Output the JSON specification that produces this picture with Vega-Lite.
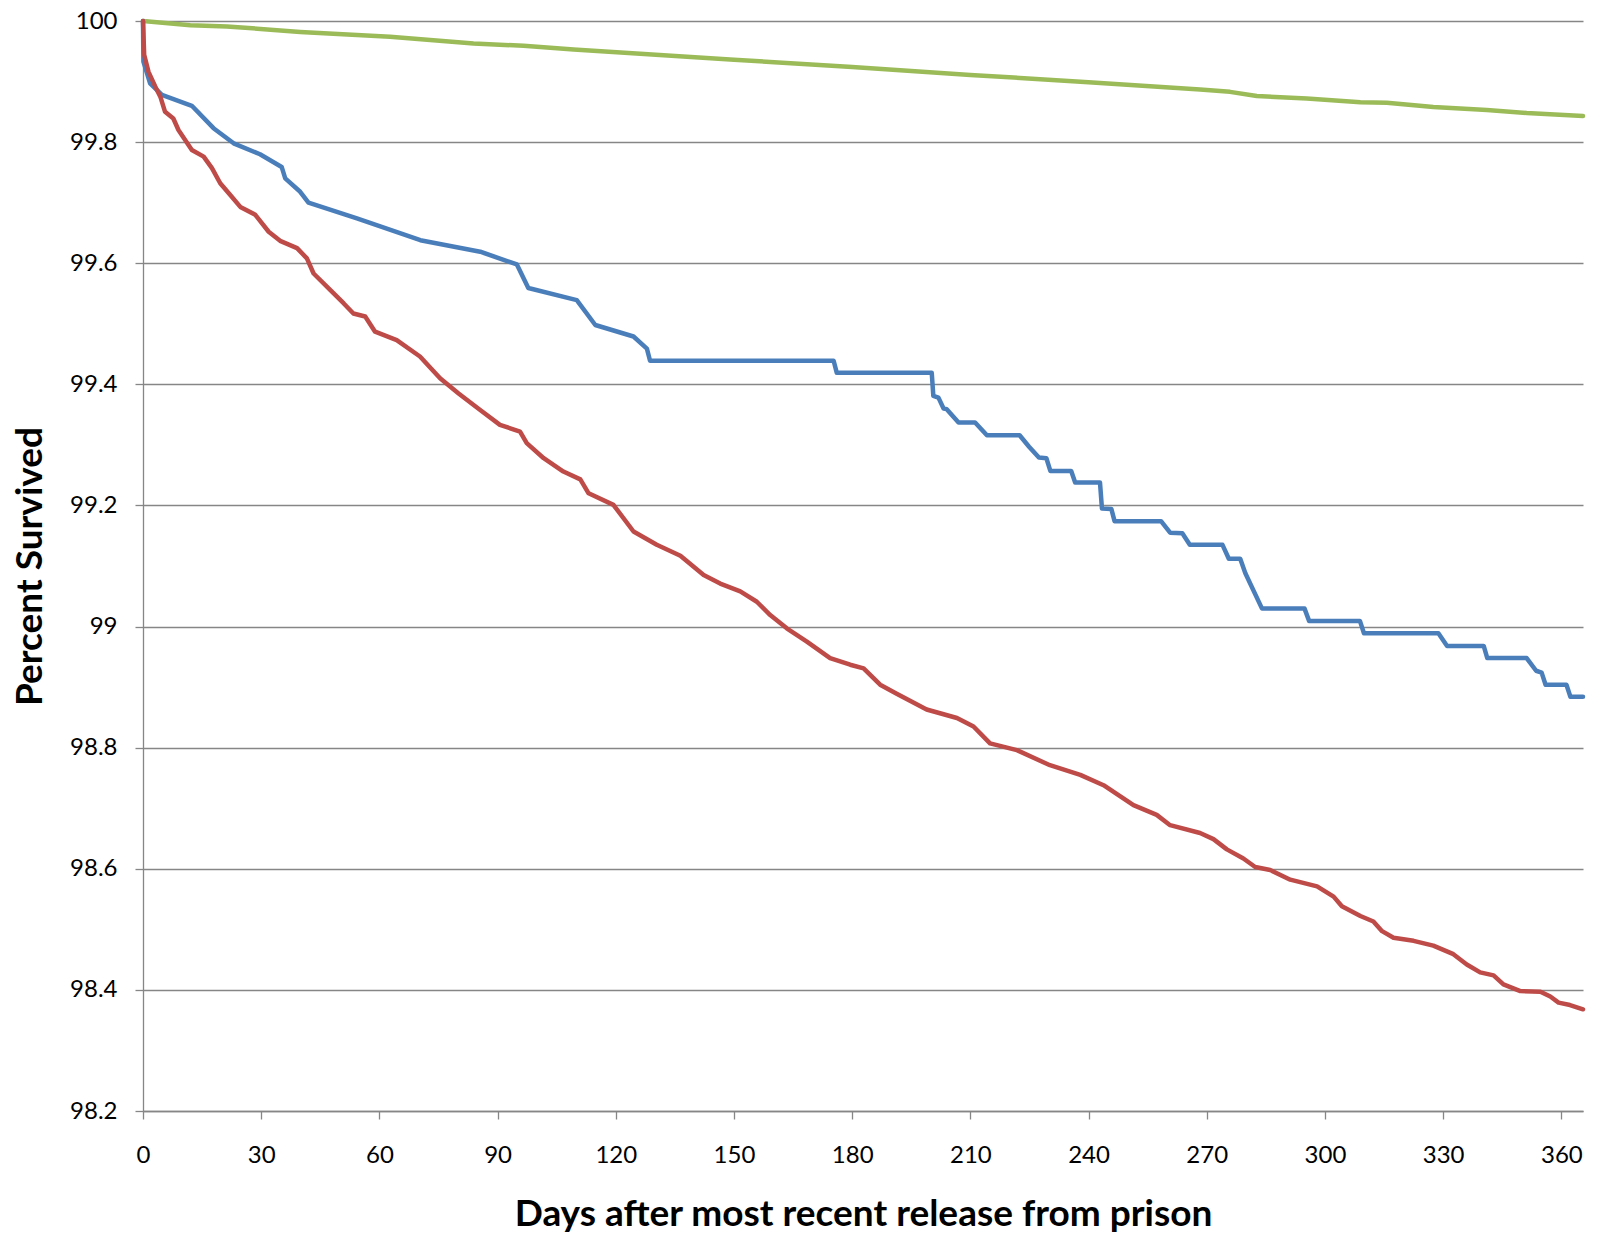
{
  "$schema": "https://vega.github.io/schema/vega-lite/v6.json",
  "width": 1440,
  "height": 1090,
  "autosize": {"type": "none"},
  "padding": {"left": 143, "top": 21, "right": 15, "bottom": 125},
  "background": "white",
  "config": {
    "view": {"stroke": null},
    "font": "Lato",
    "axis": {
      "labelFont": "Lato",
      "titleFont": "Lato",
      "labelColor": "#000000",
      "titleColor": "#000000",
      "domainColor": "#868686",
      "tickColor": "#868686",
      "gridColor": "#868686",
      "domainWidth": 1.3,
      "tickWidth": 1.3,
      "gridWidth": 1.3
    }
  },
  "datasets": {
    "curves": [
      {"s":"green","d":0,"p":100},{"s":"green","d":12,"p":99.993},{"s":"green","d":21.3,"p":99.991},{"s":"green","d":39.9,"p":99.982},{"s":"green","d":62.7,"p":99.974},{"s":"green","d":83.9,"p":99.963},{"s":"green","d":96.6,"p":99.959},{"s":"green","d":109.3,"p":99.953},{"s":"green","d":126.2,"p":99.946},{"s":"green","d":150,"p":99.936},{"s":"green","d":180,"p":99.924},{"s":"green","d":210,"p":99.911},{"s":"green","d":240,"p":99.899},{"s":"green","d":268.3,"p":99.887},{"s":"green","d":275.9,"p":99.883},{"s":"green","d":282.7,"p":99.876},{"s":"green","d":295.4,"p":99.872},{"s":"green","d":309,"p":99.866},{"s":"green","d":315.7,"p":99.865},{"s":"green","d":327.5,"p":99.858},{"s":"green","d":341.1,"p":99.853},{"s":"green","d":351.2,"p":99.848},{"s":"green","d":365.5,"p":99.843},
      {"s":"blue","d":0,"p":100},{"s":"blue","d":0.1,"p":99.933},{"s":"blue","d":1.8,"p":99.897},{"s":"blue","d":4.8,"p":99.878},{"s":"blue","d":12.4,"p":99.86},{"s":"blue","d":17.9,"p":99.823},{"s":"blue","d":23,"p":99.798},{"s":"blue","d":29.7,"p":99.78},{"s":"blue","d":35.2,"p":99.759},{"s":"blue","d":36.1,"p":99.74},{"s":"blue","d":39.9,"p":99.718},{"s":"blue","d":42,"p":99.7},{"s":"blue","d":54.3,"p":99.674},{"s":"blue","d":70.4,"p":99.638},{"s":"blue","d":85.6,"p":99.619},{"s":"blue","d":94.9,"p":99.598},{"s":"blue","d":97.8,"p":99.559},{"s":"blue","d":110.1,"p":99.539},{"s":"blue","d":114.8,"p":99.498},{"s":"blue","d":124.5,"p":99.479},{"s":"blue","d":127.9,"p":99.459},{"s":"blue","d":128.7,"p":99.439},{"s":"blue","d":175.3,"p":99.439},{"s":"blue","d":176.1,"p":99.419},{"s":"blue","d":200.2,"p":99.419},{"s":"blue","d":200.6,"p":99.381},{"s":"blue","d":201.9,"p":99.378},{"s":"blue","d":203.2,"p":99.36},{"s":"blue","d":204,"p":99.359},{"s":"blue","d":207,"p":99.337},{"s":"blue","d":211.2,"p":99.337},{"s":"blue","d":214.2,"p":99.316},{"s":"blue","d":222.5,"p":99.316},{"s":"blue","d":224.9,"p":99.297},{"s":"blue","d":227.4,"p":99.279},{"s":"blue","d":229.3,"p":99.278},{"s":"blue","d":230.3,"p":99.257},{"s":"blue","d":235.6,"p":99.257},{"s":"blue","d":236.6,"p":99.238},{"s":"blue","d":242.9,"p":99.238},{"s":"blue","d":243.4,"p":99.195},{"s":"blue","d":245.8,"p":99.194},{"s":"blue","d":246.6,"p":99.174},{"s":"blue","d":258.4,"p":99.174},{"s":"blue","d":260.7,"p":99.155},{"s":"blue","d":263.8,"p":99.154},{"s":"blue","d":265.7,"p":99.135},{"s":"blue","d":274,"p":99.135},{"s":"blue","d":275.6,"p":99.112},{"s":"blue","d":278.5,"p":99.112},{"s":"blue","d":279.8,"p":99.088},{"s":"blue","d":284,"p":99.03},{"s":"blue","d":294.8,"p":99.03},{"s":"blue","d":296,"p":99.009},{"s":"blue","d":308.9,"p":99.009},{"s":"blue","d":309.9,"p":98.989},{"s":"blue","d":328.8,"p":98.989},{"s":"blue","d":331,"p":98.968},{"s":"blue","d":340.3,"p":98.968},{"s":"blue","d":341.2,"p":98.948},{"s":"blue","d":351.2,"p":98.948},{"s":"blue","d":353.6,"p":98.927},{"s":"blue","d":355,"p":98.924},{"s":"blue","d":356,"p":98.904},{"s":"blue","d":361.3,"p":98.904},{"s":"blue","d":362.3,"p":98.884},{"s":"blue","d":365.5,"p":98.884},
      {"s":"red","d":0,"p":100},{"s":"red","d":0.3,"p":99.944},{"s":"red","d":1.4,"p":99.916},{"s":"red","d":3.1,"p":99.892},{"s":"red","d":4.4,"p":99.875},{"s":"red","d":5.6,"p":99.85},{"s":"red","d":7.7,"p":99.839},{"s":"red","d":9,"p":99.82},{"s":"red","d":12.4,"p":99.787},{"s":"red","d":15.4,"p":99.776},{"s":"red","d":17.5,"p":99.757},{"s":"red","d":19.6,"p":99.732},{"s":"red","d":22.1,"p":99.713},{"s":"red","d":24.7,"p":99.693},{"s":"red","d":28.5,"p":99.68},{"s":"red","d":31.9,"p":99.652},{"s":"red","d":34.8,"p":99.637},{"s":"red","d":39.1,"p":99.625},{"s":"red","d":41.6,"p":99.608},{"s":"red","d":43.3,"p":99.583},{"s":"red","d":47.5,"p":99.556},{"s":"red","d":50.9,"p":99.534},{"s":"red","d":53.4,"p":99.517},{"s":"red","d":56.4,"p":99.512},{"s":"red","d":58.9,"p":99.487},{"s":"red","d":64.4,"p":99.473},{"s":"red","d":70.3,"p":99.446},{"s":"red","d":75.4,"p":99.41},{"s":"red","d":80.1,"p":99.385},{"s":"red","d":85.5,"p":99.358},{"s":"red","d":90.6,"p":99.333},{"s":"red","d":95.7,"p":99.322},{"s":"red","d":97.4,"p":99.303},{"s":"red","d":101.7,"p":99.278},{"s":"red","d":106.7,"p":99.256},{"s":"red","d":111,"p":99.243},{"s":"red","d":113.1,"p":99.22},{"s":"red","d":119.4,"p":99.201},{"s":"red","d":124.5,"p":99.157},{"s":"red","d":130.4,"p":99.135},{"s":"red","d":136.4,"p":99.117},{"s":"red","d":142.3,"p":99.085},{"s":"red","d":146.5,"p":99.071},{"s":"red","d":151.6,"p":99.058},{"s":"red","d":155.8,"p":99.041},{"s":"red","d":159.2,"p":99.019},{"s":"red","d":163.4,"p":98.997},{"s":"red","d":168.5,"p":98.975},{"s":"red","d":174.4,"p":98.948},{"s":"red","d":179.5,"p":98.937},{"s":"red","d":182.9,"p":98.931},{"s":"red","d":187.1,"p":98.904},{"s":"red","d":191.3,"p":98.889},{"s":"red","d":198.9,"p":98.863},{"s":"red","d":206.6,"p":98.849},{"s":"red","d":210.8,"p":98.835},{"s":"red","d":215,"p":98.807},{"s":"red","d":221.8,"p":98.796},{"s":"red","d":230.2,"p":98.771},{"s":"red","d":237.9,"p":98.755},{"s":"red","d":243.8,"p":98.738},{"s":"red","d":251.4,"p":98.705},{"s":"red","d":257.3,"p":98.689},{"s":"red","d":260.7,"p":98.672},{"s":"red","d":268.3,"p":98.659},{"s":"red","d":271.7,"p":98.649},{"s":"red","d":275.1,"p":98.632},{"s":"red","d":279.3,"p":98.617},{"s":"red","d":282.3,"p":98.603},{"s":"red","d":286.1,"p":98.598},{"s":"red","d":291.2,"p":98.582},{"s":"red","d":298,"p":98.571},{"s":"red","d":302.2,"p":98.554},{"s":"red","d":304.3,"p":98.538},{"s":"red","d":309,"p":98.522},{"s":"red","d":312.3,"p":98.513},{"s":"red","d":314.5,"p":98.497},{"s":"red","d":317.4,"p":98.486},{"s":"red","d":322.5,"p":98.481},{"s":"red","d":327.5,"p":98.473},{"s":"red","d":332.6,"p":98.459},{"s":"red","d":336,"p":98.442},{"s":"red","d":339.4,"p":98.429},{"s":"red","d":342.8,"p":98.424},{"s":"red","d":345.3,"p":98.409},{"s":"red","d":349.6,"p":98.398},{"s":"red","d":354.7,"p":98.397},{"s":"red","d":357.2,"p":98.389},{"s":"red","d":359.3,"p":98.379},{"s":"red","d":362.2,"p":98.375},{"s":"red","d":365.5,"p":98.368}
    ]
  },
  "data": {"name": "curves"},
  "encoding": {
    "x": {
      "field": "d",
      "type": "quantitative",
      "scale": {"domain": [0, 365.5], "nice": false, "zero": false},
      "axis": {
        "title": "Days after most recent release from prison",
        "values": [0, 30, 60, 90, 120, 150, 180, 210, 240, 270, 300, 330, 360],
        "grid": false,
        "tickSize": 8,
        "labelPadding": 24,
        "labelFontSize": 24,
        "labelFlush": false,
        "labelOverlap": false,
        "titleFontSize": 37,
        "titleFontWeight": "bold",
        "titleBaseline": "top",
        "titleY": 85
      }
    },
    "y": {
      "field": "p",
      "type": "quantitative",
      "scale": {"domain": [98.2, 100], "nice": false, "zero": false},
      "axis": {
        "title": "Percent Survived",
        "values": [98.2, 98.4, 98.6, 98.8, 99, 99.2, 99.4, 99.6, 99.8, 100],
        "format": "~g",
        "grid": true,
        "tickSize": 8,
        "labelPadding": 18,
        "labelFontSize": 24,
        "labelFlush": false,
        "labelOverlap": false,
        "titleFontSize": 37,
        "titleFontWeight": "bold",
        "titleX": -94
      }
    }
  },
  "layer": [
    {
      "transform": [{"filter": "datum.s === 'green'"}],
      "mark": {"type": "line", "color": "#9BBB59", "strokeWidth": 4.5, "strokeJoin": "round", "strokeCap": "round"}
    },
    {
      "transform": [{"filter": "datum.s === 'blue'"}],
      "mark": {"type": "line", "color": "#4A7EBB", "strokeWidth": 4.5, "strokeJoin": "round", "strokeCap": "round"}
    },
    {
      "transform": [{"filter": "datum.s === 'red'"}],
      "mark": {"type": "line", "color": "#BE4B48", "strokeWidth": 4.5, "strokeJoin": "round", "strokeCap": "round"}
    }
  ]
}
